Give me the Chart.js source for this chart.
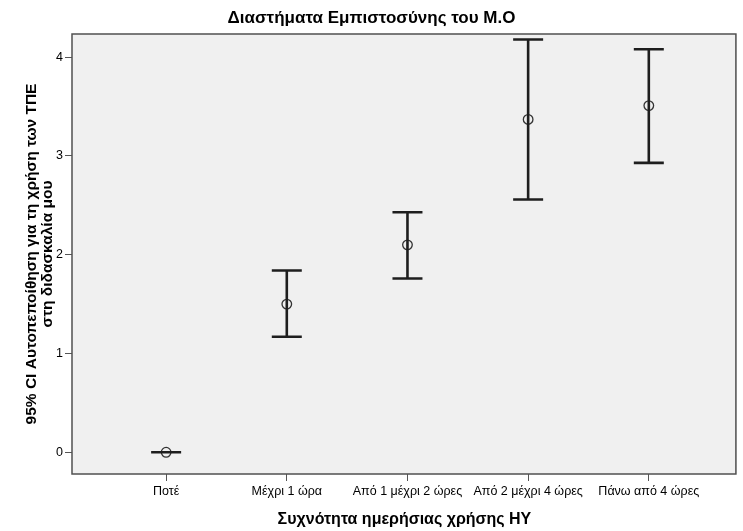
<!DOCTYPE html>
<html><head><meta charset="utf-8">
<script src="https://cdn.jsdelivr.net/npm/chart.js@4"></script>
<style>html,body{margin:0;padding:0;background:#fff}#wrap{width:743px;height:531px}</style>
</head><body><div id="wrap"><canvas id="c" width="743" height="531"></canvas></div>
<script>
// Daily computer use groups and the 95% confidence interval of the mean score
const categories = ["Ποτέ", "Μέχρι 1 ώρα", "Από 1 μέχρι 2 ώρες", "Από 2 μέχρι 4 ώρες", "Πάνω από 4 ώρες"];
const means   = [0, 1.50, 2.10, 3.37, 3.51];
const lowerCI = [0, 1.17, 1.76, 2.56, 2.93];
const upperCI = [0, 1.84, 2.43, 4.18, 4.08];
const yTicks = [0, 1, 2, 3, 4];

const FONT = "'Liberation Sans', Arial, sans-serif";
const INK = '#1e1e1e';

// Grey plotting panel with a frame around it
const panel = {
  id: 'panel',
  beforeDatasetsDraw(chart) {
    const { ctx, chartArea: a } = chart;
    ctx.save();
    ctx.fillStyle = '#f0f0f0';
    ctx.fillRect(a.left, a.top, a.right - a.left, a.bottom - a.top);
    ctx.restore();
  },
  afterDraw(chart) {
    const { ctx, chartArea: a } = chart;
    ctx.save();
    ctx.strokeStyle = '#505050';
    ctx.lineWidth = 1.5;
    ctx.strokeRect(a.left, a.top, a.right - a.left - 1, a.bottom - a.top);
    ctx.restore();
  }
};

// Whiskers with caps from the lower to the upper limit of each interval
const whiskers = {
  id: 'whiskers',
  afterDatasetsDraw(chart) {
    const { ctx, scales: { x, y } } = chart;
    const half = 15;
    ctx.save();
    ctx.strokeStyle = INK;
    ctx.lineWidth = 2.6;
    ctx.lineCap = 'butt';
    categories.forEach((_, i) => {
      const px = x.getPixelForValue(i);
      const lo = y.getPixelForValue(lowerCI[i]);
      const hi = y.getPixelForValue(upperCI[i]);
      ctx.beginPath();
      ctx.moveTo(px, lo); ctx.lineTo(px, hi);
      ctx.moveTo(px - half, lo); ctx.lineTo(px + half, lo);
      ctx.moveTo(px - half, hi); ctx.lineTo(px + half, hi);
      ctx.stroke();
    });
    ctx.restore();
  }
};

new Chart(document.getElementById('c'), {
  type: 'scatter',
  data: {
    datasets: [{
      data: means.map((m, i) => ({ x: i, y: m })),
      pointStyle: 'circle',
      pointRadius: 4.8,
      pointHoverRadius: 4.8,
      borderWidth: 1.3,
      borderColor: '#333',
      backgroundColor: 'rgba(0,0,0,0)'
    }]
  },
  options: {
    responsive: false,
    animation: false,
    devicePixelRatio: 1,
    layout: { padding: { top: 0, right: 0, bottom: 0, left: 0 } },
    plugins: {
      legend: { display: false },
      tooltip: { enabled: false },
      title: {
        display: true,
        text: 'Διαστήματα Εμπιστοσύνης του Μ.Ο',
        color: '#000',
        font: { family: FONT, size: 17, weight: 'bold', lineHeight: 1.2 },
        padding: { top: 8, bottom: 5.6 }
      }
    },
    scales: {
      x: {
        type: 'linear',
        min: -0.78,
        max: 4.73,
        afterBuildTicks: s => { s.ticks = categories.map((_, i) => ({ value: i })); },
        afterFit: s => { s.height = 57; },
        ticks: {
          color: '#000',
          font: { family: FONT, size: 12.5 },
          padding: 3,
          maxRotation: 0,
          autoSkip: false,
          callback: v => categories[v]
        },
        grid: { display: true, drawOnChartArea: false, tickLength: 7, tickColor: '#555', tickWidth: 1 },
        border: { display: false },
        title: {
          display: true,
          text: 'Συχνότητα ημερήσιας χρήσης ΗΥ',
          color: '#000',
          font: { family: FONT, size: 16, weight: 'bold', lineHeight: 1.2 },
          padding: { top: 0, bottom: 1.4 }
        }
      },
      y: {
        min: -0.22,
        max: 4.235,
        afterBuildTicks: s => { s.ticks = yTicks.map(v => ({ value: v })); },
        afterFit: s => { s.width = 72; },
        ticks: {
          color: '#000',
          font: { family: FONT, size: 12.5 },
          padding: 2
        },
        grid: { display: true, drawOnChartArea: false, tickLength: 7, tickColor: '#555', tickWidth: 1 },
        border: { display: false },
        title: {
          display: true,
          text: ['95% CI Αυτοπεποίθηση για τη χρήση των ΤΠΕ', 'στη διδασκαλία μου'],
          color: '#000',
          font: { family: FONT, size: 15.5, weight: 'bold', lineHeight: 1.08 },
          padding: { top: 23, bottom: 0 }
        }
      }
    }
  },
  plugins: [panel, whiskers]
});
</script>
</body></html>
